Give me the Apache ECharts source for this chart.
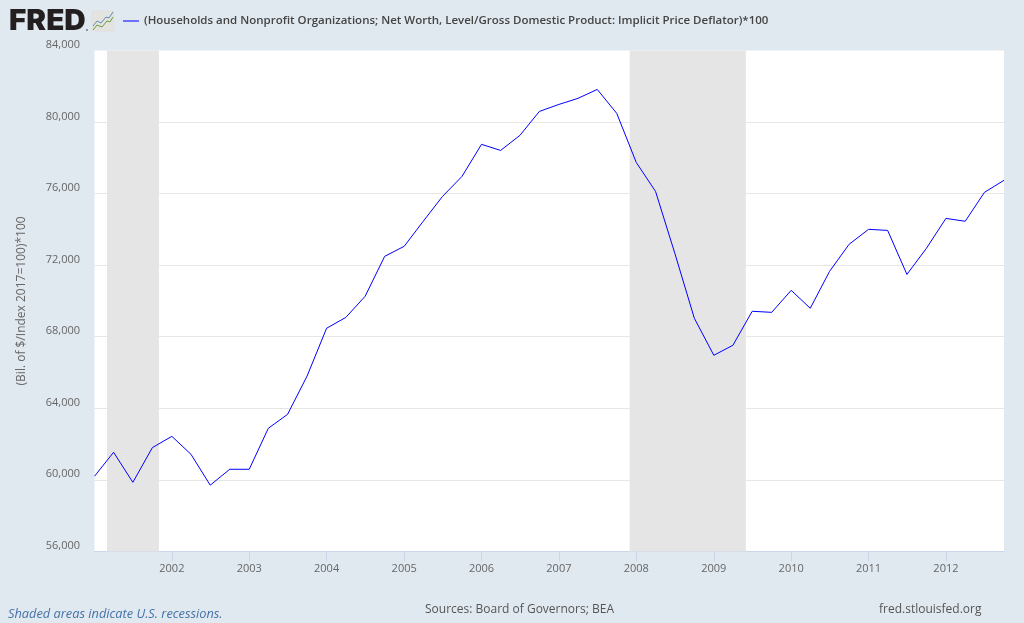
<!DOCTYPE html>
<html><head><meta charset="utf-8">
<style>html,body{margin:0;padding:0;background:#e1e9f0}#c{width:1024px;height:623px}</style>
<script src="https://cdn.jsdelivr.net/npm/echarts@6/dist/echarts.min.js"></script>
</head><body><div id="c"></div>
<script>
const seriesName = "(Households and Nonprofit Organizations; Net Worth, Level/Gross Domestic Product: Implicit Price Deflator)*100";
const quarters = [
"2001-01-01","2001-04-01","2001-07-01","2001-10-01","2002-01-01","2002-04-01","2002-07-01","2002-10-01",
"2003-01-01","2003-04-01","2003-07-01","2003-10-01","2004-01-01","2004-04-01","2004-07-01","2004-10-01",
"2005-01-01","2005-04-01","2005-07-01","2005-10-01","2006-01-01","2006-04-01","2006-07-01","2006-10-01",
"2007-01-01","2007-04-01","2007-07-01","2007-10-01","2008-01-01","2008-04-01","2008-07-01","2008-10-01",
"2009-01-01","2009-04-01","2009-07-01","2009-10-01","2010-01-01","2010-04-01","2010-07-01","2010-10-01",
"2011-01-01","2011-04-01","2011-07-01","2011-10-01","2012-01-01","2012-04-01","2012-07-01","2012-10-01"];
const netWorth = [
60200,61540,59860,61800,62430,61430,59700,60590,
60590,62880,63660,65800,68470,69080,70260,72490,
73050,74450,75840,76960,78750,78410,79250,80590,
80980,81320,81820,80480,77740,76120,72660,69030,
66960,67520,69420,69360,70590,69590,71650,73160,
74000,73940,71480,72940,74610,74450,76070,76740];
const recessions = [["2001-03-01","2001-11-01"],["2007-12-01","2009-06-01"]];
const yearTicks = ["2002","2003","2004","2005","2006","2007","2008","2009","2010","2011","2012"];
const yMin = 56000, yMax = 84000, yStep = 4000;
const yAxisTitle = "(Bil. of $/Index 2017=100)*100";
const noteLeft = "Shaded areas indicate U.S. recessions.";
const noteMid = "Sources: Board of Governors; BEA";
const noteRight = "fred.stlouisfed.org";

const ts = s => Date.parse(s + (s.length === 4 ? "-01-01" : "") + "T00:00:00Z");
const font = '"Open Sans"';
const chart = echarts.init(document.getElementById('c'), null, {renderer:'canvas'});
const tickVals = yearTicks.map(ts);
chart.setOption({
  animation: false,
  backgroundColor: '#e1e9f0',
  textStyle: {fontFamily: font},
  grid: {left: 94.5, right: 20, top: 50.4, bottom: 71.6, show: true, backgroundColor: '#fff', borderWidth: 0},
  legend: {
    left: 118, top: 10, itemWidth: 16, itemHeight: 2, itemGap: 5,
    icon: 'rect',
    data: [{name: seriesName, itemStyle: {color: '#7070ff'}}],
    textStyle: {fontFamily: font, fontSize: 11.5, fontWeight: 600, color: '#444'}
  },
  xAxis: {
    type: 'value',
    min: ts(quarters[0]), max: ts(quarters[quarters.length-1]),
    axisLine: {show: true, onZero: false, lineStyle: {color: '#ccd6eb', width: 1}},
    axisTick: {show: true, length: 10, customValues: tickVals, lineStyle: {color: '#ccd6eb'}},
    axisLabel: {
      customValues: tickVals, margin: 12, color: '#666', fontSize: 11, fontFamily: font,
      formatter: v => String(new Date(v).getUTCFullYear())
    },
    splitLine: {show: false}
  },
  yAxis: {
    type: 'value', min: yMin, max: yMax, interval: yStep,
    name: yAxisTitle, nameLocation: 'middle', nameGap: 67, nameRotate: 90,
    nameTextStyle: {color: '#666', fontSize: 12, fontFamily: font},
    axisLine: {show: false}, axisTick: {show: false},
    axisLabel: {
      margin: 14.5, color: '#666', fontSize: 11, fontFamily: font,
      verticalAlign: 'bottom', lineHeight: 11,
      formatter: v => v.toLocaleString('en-US')
    },
    splitLine: {show: true, showMinLine: false, showMaxLine: false, lineStyle: {color: '#e6e6e6', width: 1}}
  },
  series: [{
    name: seriesName, type: 'line', showSymbol: false, symbol: 'none', smooth: false,
    data: quarters.map((q,i) => [ts(q), netWorth[i]]),
    lineStyle: {color: '#0000ff', width: 1},
    itemStyle: {color: '#0000ff'},
    markArea: {
      silent: true,
      itemStyle: {color: '#e5e5e5', opacity: 1},
      data: recessions.map(r => [{xAxis: ts(r[0])}, {xAxis: ts(r[1])}])
    },
    z: 5
  }],
  graphic: [
    {type:'text', x: 9, y: 8, scaleX: 1.06, style:{text:'FRED', fontFamily:'Inter', fontWeight:900, fontSize:28, fill:'#231f20'}},
    {type:'circle', shape:{cx:87, cy:30, r:1}, style:{fill:'#777'}},
    {type:'group', x: 92, y: 11, children:[
      {type:'rect', shape:{x:0,y:0,width:22,height:20,r:2}, style:{fill:'#e3e3df', stroke:'#d8d8d8', lineWidth:0.5}},
      {type:'polyline', shape:{points:[[1,15],[5,10],[9,12],[14,6],[17,7],[21,1]]}, style:{stroke:'#5f8db5', fill:'none', lineWidth:1}},
      {type:'polyline', shape:{points:[[1,19],[5,14],[10,16],[15,10],[18,11],[21,6]]}, style:{stroke:'#6f9a3e', fill:'none', lineWidth:1}}
    ]},
    {type:'text', left: 8, top: 608, style:{text:noteLeft, fontFamily:font, fontStyle:'italic', fontSize:12.8, fill:'#4572a7'}},
    {type:'text', left: 425, top: 604, style:{text:noteMid, fontFamily:font, fontSize:12, fill:'#555'}},
    {type:'text', left: 879, top: 604, style:{text:noteRight, fontFamily:font, fontSize:12, fill:'#555'}}
  ]
});
</script></body></html>
